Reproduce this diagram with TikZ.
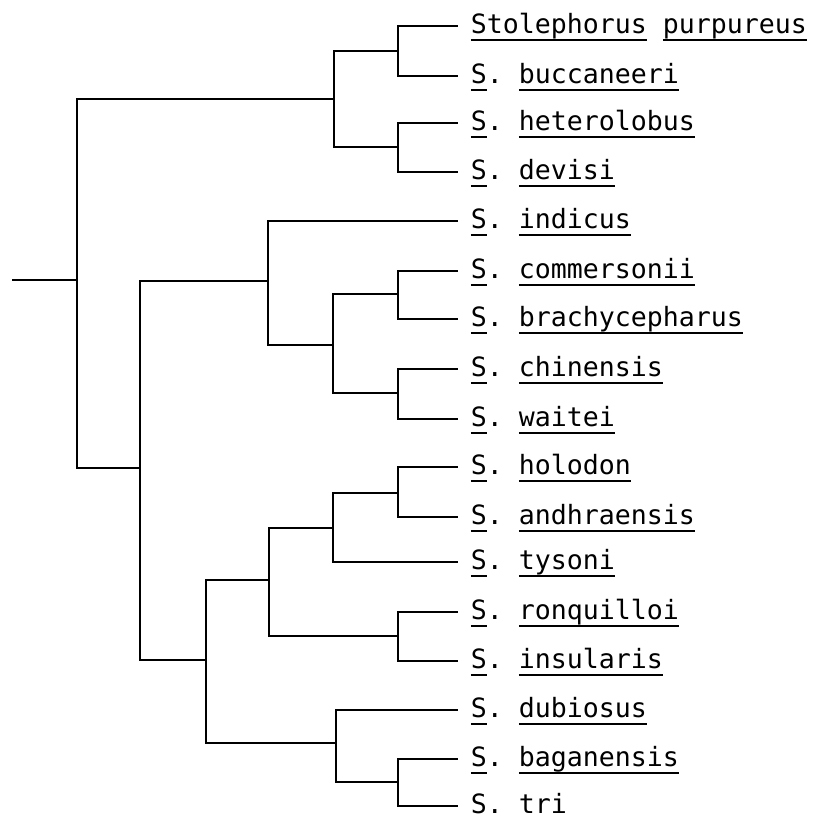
\documentclass[tikz,border=0pt]{standalone}
\usepackage{fontspec}
\setmonofont{DejaVu Sans Mono}
\usepackage{tikz}

% underline one word at a fixed depth, below the descenders
\newsavebox{\wordbox}
\newcommand{\uword}[1]{%
\sbox{\wordbox}{#1}\rlap{\vrule width\wd\wordbox height -0.2em depth 0.28em}\usebox{\wordbox}}
% species name: S. + epithet, both underlined
\newcommand{\spname}[1]{\uword{S}. \uword{#1}}

\begin{document}
\begin{tikzpicture}[x=0.025cm, y=-0.025cm, line width=1.3pt,
    taxon/.style={anchor=west, inner xsep=0.3cm, inner ysep=0pt,
        font=\ttfamily\fontsize{18.9}{22}\selectfont,
        text height=10.6pt, text depth=0pt}]

    \useasboundingbox (0,0) rectangle (817,818);

    % leaves, top to bottom
    \node[taxon] (purp) at (458,26)  {\uword{Stolephorus} \uword{purpureus}};
    \node[taxon] (bucc) at (458,76)  {\spname{buccaneeri}};
    \node[taxon] (hete) at (458,123) {\spname{heterolobus}};
    \node[taxon] (devi) at (458,172) {\spname{devisi}};
    \node[taxon] (indi) at (458,221) {\spname{indicus}};
    \node[taxon] (comm) at (458,271) {\spname{commersonii}};
    \node[taxon] (brac) at (458,319) {\spname{brachycepharus}};
    \node[taxon] (chin) at (458,369) {\spname{chinensis}};
    \node[taxon] (wait) at (458,419) {\spname{waitei}};
    \node[taxon] (holo) at (458,467) {\spname{holodon}};
    \node[taxon] (andh) at (458,517) {\spname{andhraensis}};
    \node[taxon] (tyso) at (458,562) {\spname{tysoni}};
    \node[taxon] (ronq) at (458,612) {\spname{ronquilloi}};
    \node[taxon] (insu) at (458,661) {\spname{insularis}};
    \node[taxon] (dubi) at (458,710) {\spname{dubiosus}};
    \node[taxon] (baga) at (458,759) {\spname{baganensis}};
    \node[taxon] (tri)  at (458,806) {S. tri};

    % branching points
    \coordinate (stem)  at (12,280);
    \coordinate (root)  at (77,280);
    \coordinate (pb)    at (398,51);
    \coordinate (hd)    at (398,147);
    \coordinate (pbhd)  at (334,99);
    \coordinate (low)   at (140,468);
    \coordinate (cb)    at (398,294);
    \coordinate (cw)    at (398,393);
    \coordinate (cbcw)  at (333,345);
    \coordinate (indcl) at (268,281);
    \coordinate (ha)    at (398,493);
    \coordinate (hat)   at (333,528);
    \coordinate (ri)    at (398,636);
    \coordinate (hari)  at (269,580);
    \coordinate (bt)    at (398,782);
    \coordinate (dbt)   at (336,743);
    \coordinate (lowcl) at (206,660);

    % root and the two main clades
    \draw (stem) -- (root);
    \draw (root) |- (pbhd);
    \draw (root) |- (low);

    % upper clade
    \draw (pbhd) |- (pb);
    \draw (pbhd) |- (hd);
    \draw (pb) |- (purp.west);
    \draw (pb) |- (bucc.west);
    \draw (hd) |- (hete.west);
    \draw (hd) |- (devi.west);

    % lower clade
    \draw (low) |- (indcl);
    \draw (low) |- (lowcl);

    \draw (indcl) |- (indi.west);
    \draw (indcl) |- (cbcw);
    \draw (cbcw) |- (cb);
    \draw (cbcw) |- (cw);
    \draw (cb) |- (comm.west);
    \draw (cb) |- (brac.west);
    \draw (cw) |- (chin.west);
    \draw (cw) |- (wait.west);

    \draw (lowcl) |- (hari);
    \draw (lowcl) |- (dbt);
    \draw (hari) |- (hat);
    \draw (hari) |- (ri);
    \draw (hat) |- (ha);
    \draw (hat) |- (tyso.west);
    \draw (ha) |- (holo.west);
    \draw (ha) |- (andh.west);
    \draw (ri) |- (ronq.west);
    \draw (ri) |- (insu.west);
    \draw (dbt) |- (dubi.west);
    \draw (dbt) |- (bt);
    \draw (bt) |- (baga.west);
    \draw (bt) |- (tri.west);

\end{tikzpicture}
\end{document}
